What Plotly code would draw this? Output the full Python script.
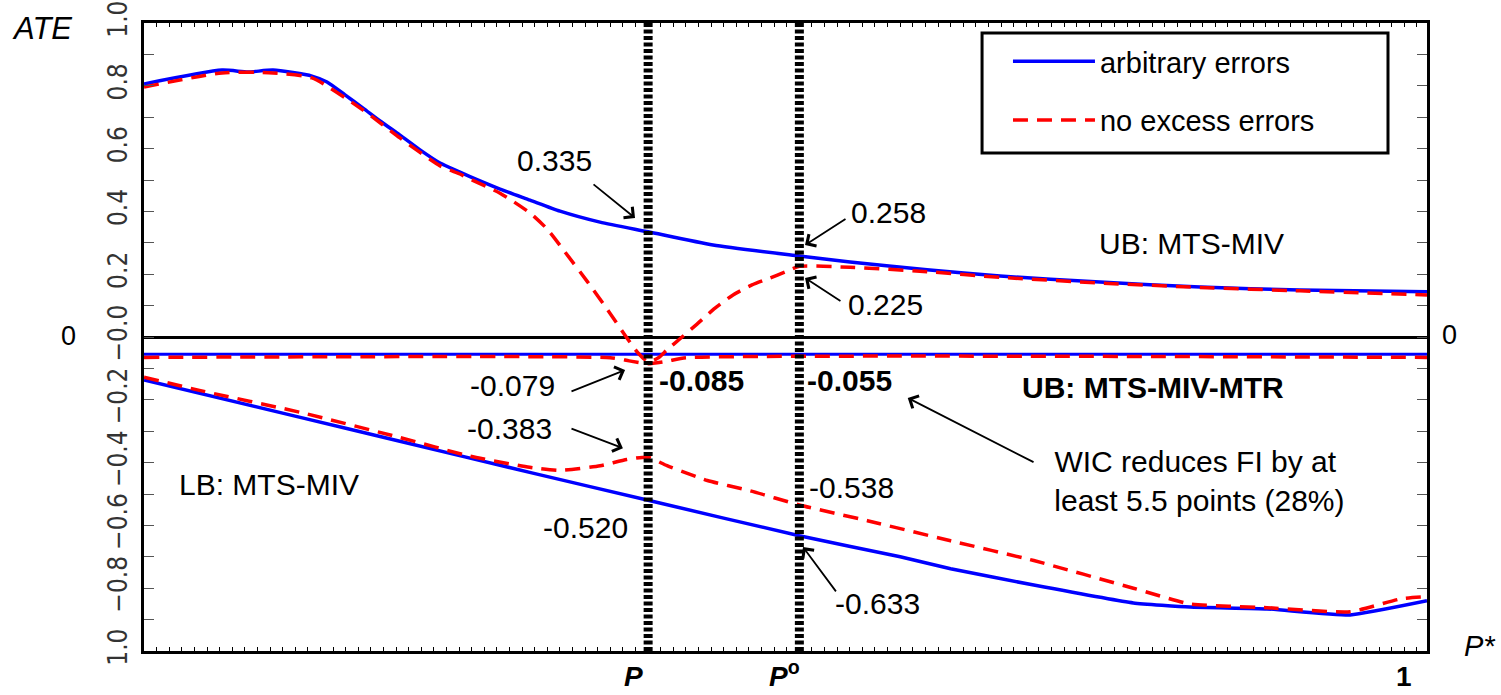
import plotly.graph_objects as go

# ---------------- data ----------------
P_STAR = 0.40
P_O = 0.52

ub_x = [0, 0.0619, 0.0825, 0.1024, 0.1333, 0.1452, 0.1595, 0.1738, 0.1873, 0.2031, 0.219,
        0.2349, 0.2507, 0.2666, 0.2825, 0.3063, 0.3301, 0.3618, 0.40, 0.4515, 0.52, 0.5602,
        0.6213, 0.6792, 0.7585, 0.8379, 0.9172, 1.018]
ub_arb = [0.806, 0.850, 0.844, 0.850, 0.831, 0.812, 0.771, 0.729, 0.688, 0.643, 0.596,
          0.554, 0.525, 0.497, 0.471, 0.436, 0.401, 0.366, 0.335, 0.293, 0.258, 0.239,
          0.214, 0.194, 0.175, 0.159, 0.150, 0.144]

ubn_x = [0, 0.0619, 0.1024, 0.1333, 0.1738, 0.2031, 0.2349, 0.2507, 0.2587, 0.2825, 0.3063,
         0.3198, 0.334, 0.3515, 0.3697, 0.3832, 0.392, 0.40, 0.4078, 0.415, 0.4269, 0.4388,
         0.4531, 0.4674, 0.4824, 0.4967, 0.5086, 0.52, 0.5602, 0.6213, 0.6792, 0.7585,
         0.8379, 0.9172, 1.018]
ubn_nee = [0.796, 0.841, 0.841, 0.825, 0.723, 0.634, 0.545, 0.519, 0.503, 0.458, 0.395,
           0.344, 0.271, 0.178, 0.076, -0.003, -0.051, -0.079, -0.067, -0.041, 0.0, 0.041,
           0.092, 0.134, 0.166, 0.188, 0.207, 0.225, 0.222, 0.208, 0.19, 0.172,
           0.158, 0.147, 0.134]

mtr_x = [0, 1.018]
mtr_arb = [-0.055, -0.055]

mtrn_x = [0, 0.37, 0.385, 0.40, 0.415, 0.43, 1.018]
mtrn_nee = [-0.065, -0.066, -0.076, -0.085, -0.077, -0.066, -0.065]

lb_x = [0, 0.124, 0.203, 0.306, 0.40, 0.52, 0.60, 0.64, 0.706, 0.785, 0.83, 0.891, 0.957, 1.018]
lb_arb = [-0.137, -0.256, -0.332, -0.431, -0.52, -0.633, -0.70, -0.738, -0.79, -0.847, -0.86,
          -0.866, -0.885, -0.84]

lbn_x = [0, 0.044, 0.124, 0.203, 0.259, 0.306, 0.33, 0.362, 0.383, 0.40, 0.415, 0.447, 0.481,
         0.52, 0.574, 0.64, 0.706, 0.785, 0.83, 0.891, 0.957, 0.997, 1.018]
lbn_nee = [-0.128, -0.17, -0.24, -0.32, -0.38, -0.415, -0.425, -0.41, -0.39, -0.383, -0.41,
           -0.457, -0.49, -0.535, -0.585, -0.649, -0.712, -0.80, -0.85, -0.862, -0.875, -0.834,
           -0.827]

y_tick_vals = [-1.0, -0.8, -0.6, -0.4, -0.2, 0.0, 0.2, 0.4, 0.6, 0.8, 1.0]
y_tick_text = ["1.0", "\u22120.8", "\u22120.6", "\u22120.4", "\u22120.2", "\u22120.0",
               "0.2", "0.4", "0.6", "0.8", "1.0"]

x_tick_labels = ["<b>0</b>", "<b><i>P</i></b>", "<b><i>P</i><sup>o</sup></b>", "<b>1</b>"]
x_tick_pos = [-0.003, 0.388, 0.508, 1.0]

series_names = ["arbitrary errors", "no excess errors"]

# ---------------- figure ----------------
BLUE = "#0000FF"
RED = "#FF0000"
FONT = "Arial, Liberation Sans, sans-serif"
DASH = "15px,9px"

fig = go.Figure()

fig.add_trace(go.Scatter(x=ub_x, y=ub_arb, mode="lines", name=series_names[0],
                         legendgroup="a",
                         line=dict(color=BLUE, width=3.5, shape="spline", smoothing=0.6)))
fig.add_trace(go.Scatter(x=mtr_x, y=mtr_arb, mode="lines", showlegend=False,
                         legendgroup="a", line=dict(color=BLUE, width=3)))
fig.add_trace(go.Scatter(x=lb_x, y=lb_arb, mode="lines", showlegend=False,
                         legendgroup="a",
                         line=dict(color=BLUE, width=3.5, shape="spline", smoothing=0.4)))

fig.add_trace(go.Scatter(x=ubn_x, y=ubn_nee, mode="lines", name=series_names[1],
                         legendgroup="b",
                         line=dict(color=RED, width=3.5, dash=DASH, shape="spline", smoothing=0.6)))
fig.add_trace(go.Scatter(x=mtrn_x, y=mtrn_nee, mode="lines", showlegend=False,
                         legendgroup="b",
                         line=dict(color=RED, width=3.5, dash=DASH, shape="spline", smoothing=0.5)))
fig.add_trace(go.Scatter(x=lbn_x, y=lbn_nee, mode="lines", showlegend=False,
                         legendgroup="b",
                         line=dict(color=RED, width=3.5, dash=DASH, shape="spline", smoothing=0.5)))

# dotted vertical lines at P and P°
for xv in (P_STAR, P_O):
    fig.add_shape(type="line", x0=xv, x1=xv, y0=-1, y1=1, xref="x", yref="y",
                  line=dict(color="black", width=9, dash="4px,2.5px"))

# legend frame
fig.add_shape(type="rect", xref="paper", yref="paper", x0=0.6532, x1=0.9696, y0=0.793, y1=0.984,
              line=dict(color="black", width=3), fillcolor="rgba(0,0,0,0)")

ann = []


def txt(x, y, s, size=30, bold=False, xanchor="center", xref="x", yref="y", italic=False,
        yanchor="middle"):
    if bold:
        s = "<b>" + s + "</b>"
    if italic:
        s = "<i>" + s + "</i>"
    ann.append(dict(x=x, y=y, xref=xref, yref=yref, text=s, showarrow=False,
                    xanchor=xanchor, yanchor=yanchor,
                    font=dict(family=FONT, size=size, color="black")))


def arrow(tx, ty, ax, ay):
    ann.append(dict(x=tx, y=ty, xref="x", yref="y", ax=ax, ay=ay, axref="x", ayref="y",
                    text="", showarrow=True, arrowhead=4, arrowsize=1.5, arrowwidth=1.8,
                    arrowcolor="black"))


txt(0.326, 0.561, "0.335")
arrow(0.3896, 0.379, 0.3555, 0.490)
txt(0.591, 0.398, "0.258")
arrow(0.5245, 0.293, 0.5578, 0.379)
txt(0.5887, 0.102, "0.225")
arrow(0.5245, 0.188, 0.5538, 0.1115)
txt(0.292, -0.153, "-0.079")
arrow(0.3817, -0.105, 0.338, -0.175)
txt(0.407, -0.140, "-0.085", bold=True, xanchor="left")
txt(0.5245, -0.140, "-0.055", bold=True, xanchor="left")
txt(0.8006, -0.162, "UB: MTS-MIV-MTR", bold=True)
txt(0.834, -0.459, "WIC reduces FI by at<br> least 5.5 points (28%)")
arrow(0.606, -0.194, 0.707, -0.401)
txt(0.290, -0.290, "-0.383")
arrow(0.380, -0.354, 0.338, -0.290)
txt(0.526, -0.478, "-0.538", xanchor="left")
txt(0.35, -0.608, "-0.520")
txt(0.5816, -0.850, "-0.633")
arrow(0.5229, -0.669, 0.5499, -0.815)
txt(0.8315, 0.299, "UB: MTS-MIV")
txt(0.099, -0.471, "LB: MTS-MIV")

# outer labels
txt(-0.0795, 0.992, "ATE", size=31, italic=True, xref="paper", yref="paper")
txt(1.0413, 0.008, "P*", size=29, italic=True, xref="paper", yref="paper")
txt(-0.0592, 0.5016, "0", size=27, xref="paper", yref="paper")
txt(1.0179, 0.5032, "0", size=27, xref="paper", yref="paper")
for xp, lab in zip(x_tick_pos, x_tick_labels):
    txt(xp, -0.069, lab, size=28, xref="x", yref="paper", yanchor="bottom")

fig.update_layout(
    width=1501, height=695,
    margin=dict(l=144, r=74, t=23, b=44, autoexpand=False),
    paper_bgcolor="white", plot_bgcolor="white",
    annotations=ann,
    showlegend=True,
    legend=dict(x=0.6734, y=0.9795, xanchor="left", yanchor="top",
                borderwidth=0, bgcolor="rgba(0,0,0,0)",
                font=dict(family=FONT, size=29, color="black"),
                itemwidth=82, traceorder="grouped", tracegroupgap=18),
)

fig.update_xaxes(range=[0, 1.018], showgrid=False, zeroline=False, automargin=False,
                 showline=True, linecolor="black", linewidth=3, mirror="ticks",
                 ticks="inside", dtick=0.01, tick0=0, ticklen=4, tickwidth=1.2,
                 tickcolor="black", showticklabels=False)
fig.update_yaxes(range=[-1, 1], showgrid=False, zeroline=True, zerolinecolor="black",
                 zerolinewidth=3, automargin=False,
                 showline=True, linecolor="black", linewidth=3, mirror="ticks",
                 ticks="inside", tickvals=y_tick_vals, ticktext=y_tick_text,
                 ticklen=10, tickwidth=1.2, tickcolor="#555", tickangle=-90,
                 ticklabelstandoff=4,
                 minor=dict(dtick=0.1, tick0=0, ticks="inside", ticklen=10, tickwidth=1.2,
                            tickcolor="#555"),
                 tickfont=dict(family="Liberation Sans Narrow, DejaVu Sans Condensed, sans-serif",
                               size=26, color="#333"))

fig.write_html("out.html")
